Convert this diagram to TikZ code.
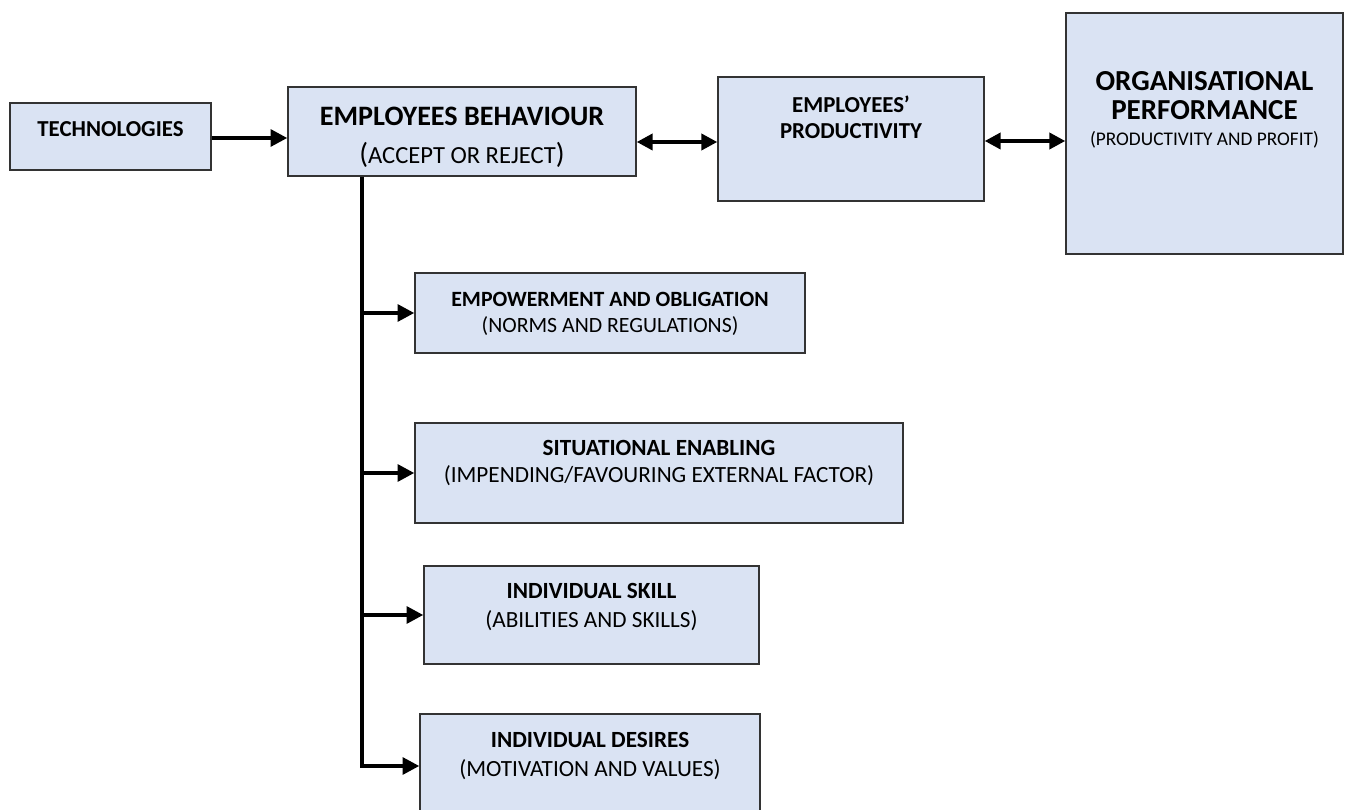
\documentclass[tikz,border=0pt]{standalone}
\usepackage{fontspec}
\setmainfont{Carlito}
\usetikzlibrary{arrows.meta}

\definecolor{boxblue}{HTML}{DAE3F3}
\newcommand\pxu{0.02cm}
\newcommand\bigpar[1]{{\fontsize{16.5}{16.5}\selectfont#1}}

\tikzset{
  box/.style={draw=black!80, fill=boxblue, line width=0.8pt, inner sep=0pt},
  arr/.style={line width=2.2pt, -{Triangle[length=9.5pt,width=9.5pt]}},
  dblarr/.style={line width=2.2pt, {Triangle[length=9pt,width=9pt]}-{Triangle[length=9pt,width=9pt]}},
  head/.style={font=\bfseries\fontsize{13.2}{15}\selectfont, align=center, inner sep=0pt},
  sub/.style={font=\fontsize{13.2}{15}\selectfont, inner sep=0pt},
}

\begin{document}
\begin{tikzpicture}[x=\pxu, y=-\pxu]
\useasboundingbox (0,0) rectangle (1345,810);

% top row
\node[box, minimum width=201*\pxu, minimum height=67*\pxu] (tech) at (110.5,136.5) {};
\node[box, minimum width=348*\pxu, minimum height=89*\pxu] (beh) at (462,131.5) {};
\node[box, minimum width=266*\pxu, minimum height=124*\pxu] (prod) at (851,139) {};
\node[box, minimum width=277*\pxu, minimum height=241*\pxu] (org) at (1204.5,133.5) {};

\node[head, font=\bfseries\fontsize{13}{15}\selectfont] (techlbl) at ([yshift=-27*\pxu]tech.north) {TECHNOLOGIES};
\node[head, font=\bfseries\fontsize{16}{19}\selectfont] (behlbl) at ([yshift=-30*\pxu]beh.north) {EMPLOYEES BEHAVIOUR};
\node[sub, font=\fontsize{14}{16}\selectfont] (behsub) at ([yshift=-69*\pxu]beh.north) {\bigpar{(}ACCEPT OR REJECT\bigpar{)}};
\node[head, font=\bfseries\fontsize{13}{14.8}\selectfont] (prodlbl) at ([yshift=-41*\pxu]prod.north) {EMPLOYEES’\\PRODUCTIVITY};
\node[head, font=\bfseries\fontsize{16.5}{16.5}\selectfont] (orglbl) at ([yshift=-83.5*\pxu]org.north) {ORGANISATIONAL\\PERFORMANCE};
\node[sub, font=\fontsize{11}{13}\selectfont] (orgsub) at ([yshift=-127*\pxu]org.north) {(PRODUCTIVITY AND PROFIT)};

% factor boxes
\node[box, minimum width=390*\pxu, minimum height=80*\pxu] (emp) at (610,313) {};
\node[box, minimum width=488*\pxu, minimum height=100*\pxu] (sit) at (659,473) {};
\node[box, minimum width=335*\pxu, minimum height=98*\pxu] (skill) at (591.5,615) {};
\node[box, minimum width=340*\pxu, minimum height=104*\pxu] (des) at (590,766) {};

\node[head, font=\bfseries\fontsize{12.4}{14}\selectfont] (emplbl) at ([yshift=-27*\pxu]emp.north) {EMPOWERMENT AND OBLIGATION};
\node[sub, font=\fontsize{12.4}{14}\selectfont] (empsub) at ([yshift=-54*\pxu]emp.north) {(NORMS AND REGULATIONS)};
\node[head] (sitlbl) at ([yshift=-26*\pxu]sit.north) {SITUATIONAL ENABLING};
\node[sub] (sitsub) at ([yshift=-53*\pxu]sit.north) {(IMPENDING/FAVOURING EXTERNAL FACTOR)};
\node[head] (skilllbl) at ([yshift=-26*\pxu]skill.north) {INDIVIDUAL SKILL};
\node[sub] (skillsub) at ([yshift=-55*\pxu]skill.north) {(ABILITIES AND SKILLS)};
\node[head] (deslbl) at ([yshift=-27*\pxu]des.north) {INDIVIDUAL DESIRES};
\node[sub] (dessub) at ([yshift=-56*\pxu]des.north) {(MOTIVATION AND VALUES)};

% connectors
\draw[arr] ([yshift=-1.5*\pxu]tech.east) -- ([yshift=-1.5*\pxu]tech.east -| beh.west);
\draw[dblarr] ([yshift=-10.5*\pxu]beh.east) -- ([yshift=-10.5*\pxu]beh.east -| prod.west);
\draw[dblarr] ([yshift=-2*\pxu]prod.east) -- ([yshift=-2*\pxu]prod.east -| org.west);

\coordinate (trunk) at ([xshift=75*\pxu]beh.south west);
\draw[arr] (trunk) -- (trunk |- des.west) -- (des.west);
\foreach \f in {emp,sit,skill}
  \draw[arr] (trunk |- \f.west) -- (\f.west);
\end{tikzpicture}
\end{document}
